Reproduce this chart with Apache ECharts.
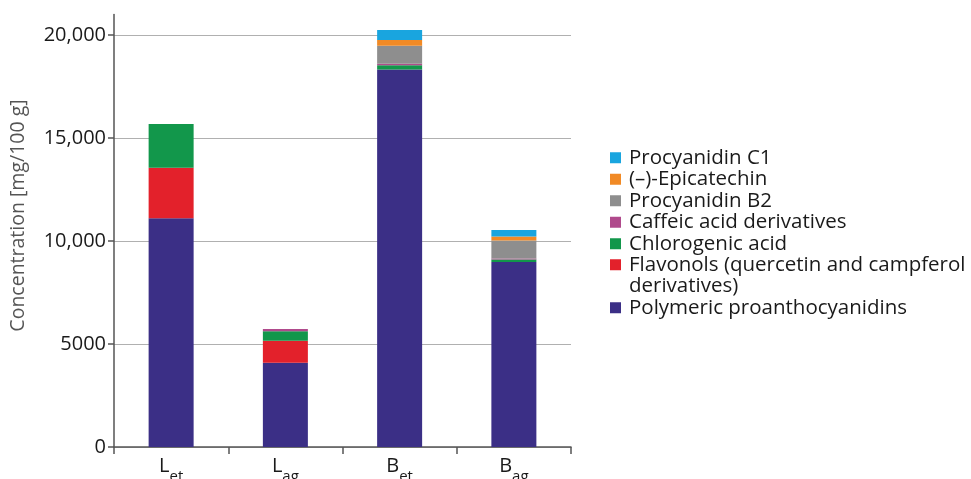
<!DOCTYPE html>
<html>
<head>
<meta charset="utf-8">
<script src="https://cdn.jsdelivr.net/npm/echarts@6/dist/echarts.min.js"></script>
<style>
  html, body { margin: 0; padding: 0; background: #fff; }
  #chart { width: 971px; height: 479px; }
</style>
</head>
<body>
<div id="chart"></div>
<script>
// Sample groups: main letter + subscript
const catBase = ['L', 'L', 'B', 'B'];
const catSub = ['et', 'ag', 'et', 'ag'];

// Concentrations in mg/100 g, stacked bottom to top
const polymeric   = [11100, 4090, 18330, 8980];
const flavonols   = [2460, 1070, 0, 0];
const chlorogenic = [2120, 460, 200, 120];
const caffeic     = [0, 110, 80, 50];
const procB2      = [0, 0, 870, 870];
const epicatechin = [0, 0, 280, 195];
const procC1      = [0, 0, 480, 315];

const yTicks = [0, 5000, 10000, 15000, 20000];

const FONT = 'Open Sans';
const categories = catBase.map((b, i) => b + '_' + catSub[i]);

const names = {
  poly: 'Polymeric proanthocyanidins',
  flav: 'Flavonols (quercetin and campferol\nderivatives)',
  chlo: 'Chlorogenic acid',
  caff: 'Caffeic acid derivatives',
  b2: 'Procyanidin B2',
  epi: '(\u2013)-Epicatechin',
  c1: 'Procyanidin C1'
};

const colors = {
  poly: '#3b2f86',
  flav: '#e3212b',
  chlo: '#12974b',
  caff: '#b04a8c',
  b2: '#8e8e8e',
  epi: '#f18a25',
  c1: '#19a5df'
};

function bar(key, data) {
  return {
    name: names[key],
    type: 'bar',
    stack: 'total',
    barWidth: 45,
    data: data,
    itemStyle: { color: colors[key] },
    emphasis: { disabled: true }
  };
}

const legendText = { fontFamily: FONT, fontSize: 20.5, color: '#1a1a1a', lineHeight: 21.5, padding: [0, 0, 0, 3] };

// the two-line legend entry gets an empty first line so its swatch sits on the first text line
function legendLabel(name) {
  return name === names.flav ? '\u00a0\n' + name : name;
}

const chart = echarts.init(document.getElementById('chart'), null, { renderer: 'canvas' });
chart.setOption({
  animation: false,
  grid: { left: 114, right: 400, top: 14.4, bottom: 32, outerBoundsMode: 'none' },
  legend: [
    {
      orient: 'vertical', left: 610, top: 147, padding: 0, itemGap: 0,
      itemWidth: 11, itemHeight: 11, icon: 'rect',
      selectedMode: false,
      textStyle: legendText,
      data: [names.c1, names.epi, names.b2, names.caff, names.chlo]
    },
    {
      orient: 'vertical', left: 610, top: 232.5, padding: 0, itemGap: 0,
      itemWidth: 11, itemHeight: 11, icon: 'rect',
      selectedMode: false,
      textStyle: legendText,
      formatter: legendLabel,
      data: [names.flav, names.poly]
    }
  ],
  xAxis: {
    type: 'category',
    data: categories,
    axisLine: { lineStyle: { color: '#555', width: 1.5 } },
    axisTick: { show: true, length: 7, lineStyle: { color: '#555', width: 1.5 } },
    axisLabel: {
      margin: 9,
      formatter: function (v, i) {
        return '{m|' + catBase[i] + '}{s|' + catSub[i] + '}';
      },
      rich: {
        m: { fontFamily: FONT, fontSize: 20, color: '#1a1a1a', verticalAlign: 'top', lineHeight: 28 },
        s: { fontFamily: FONT, fontSize: 15, color: '#1a1a1a', verticalAlign: 'bottom', lineHeight: 28 }
      }
    }
  },
  yAxis: {
    type: 'value',
    min: 0,
    max: 21000,
    interval: 5000,
    name: '\u00a0\u00a0\u00a0\u00a0\u00a0\u00a0Concentration [mg/100 g]',
    nameLocation: 'middle',
    nameGap: 86,
    nameTextStyle: { fontFamily: FONT, fontSize: 19.5, color: '#555' },
    axisLine: { show: true, lineStyle: { color: '#555', width: 1.5 } },
    axisTick: { show: true, length: 6, customValues: yTicks, lineStyle: { color: '#555', width: 1.5 } },
    axisLabel: {
      customValues: yTicks,
      margin: 8,
      fontFamily: FONT, fontSize: 20, color: '#1a1a1a',
      formatter: function (v) {
        return v >= 10000 ? String(v).replace(/\B(?=(\d{3})+(?!\d))/g, ',') : String(v);
      }
    },
    splitLine: { show: true, lineStyle: { color: '#b0b0b0', width: 1.2 } }
  },
  series: [
    bar('poly', polymeric),
    bar('flav', flavonols),
    bar('chlo', chlorogenic),
    bar('caff', caffeic),
    bar('b2', procB2),
    bar('epi', epicatechin),
    bar('c1', procC1)
  ]
});
</script>
</body>
</html>
